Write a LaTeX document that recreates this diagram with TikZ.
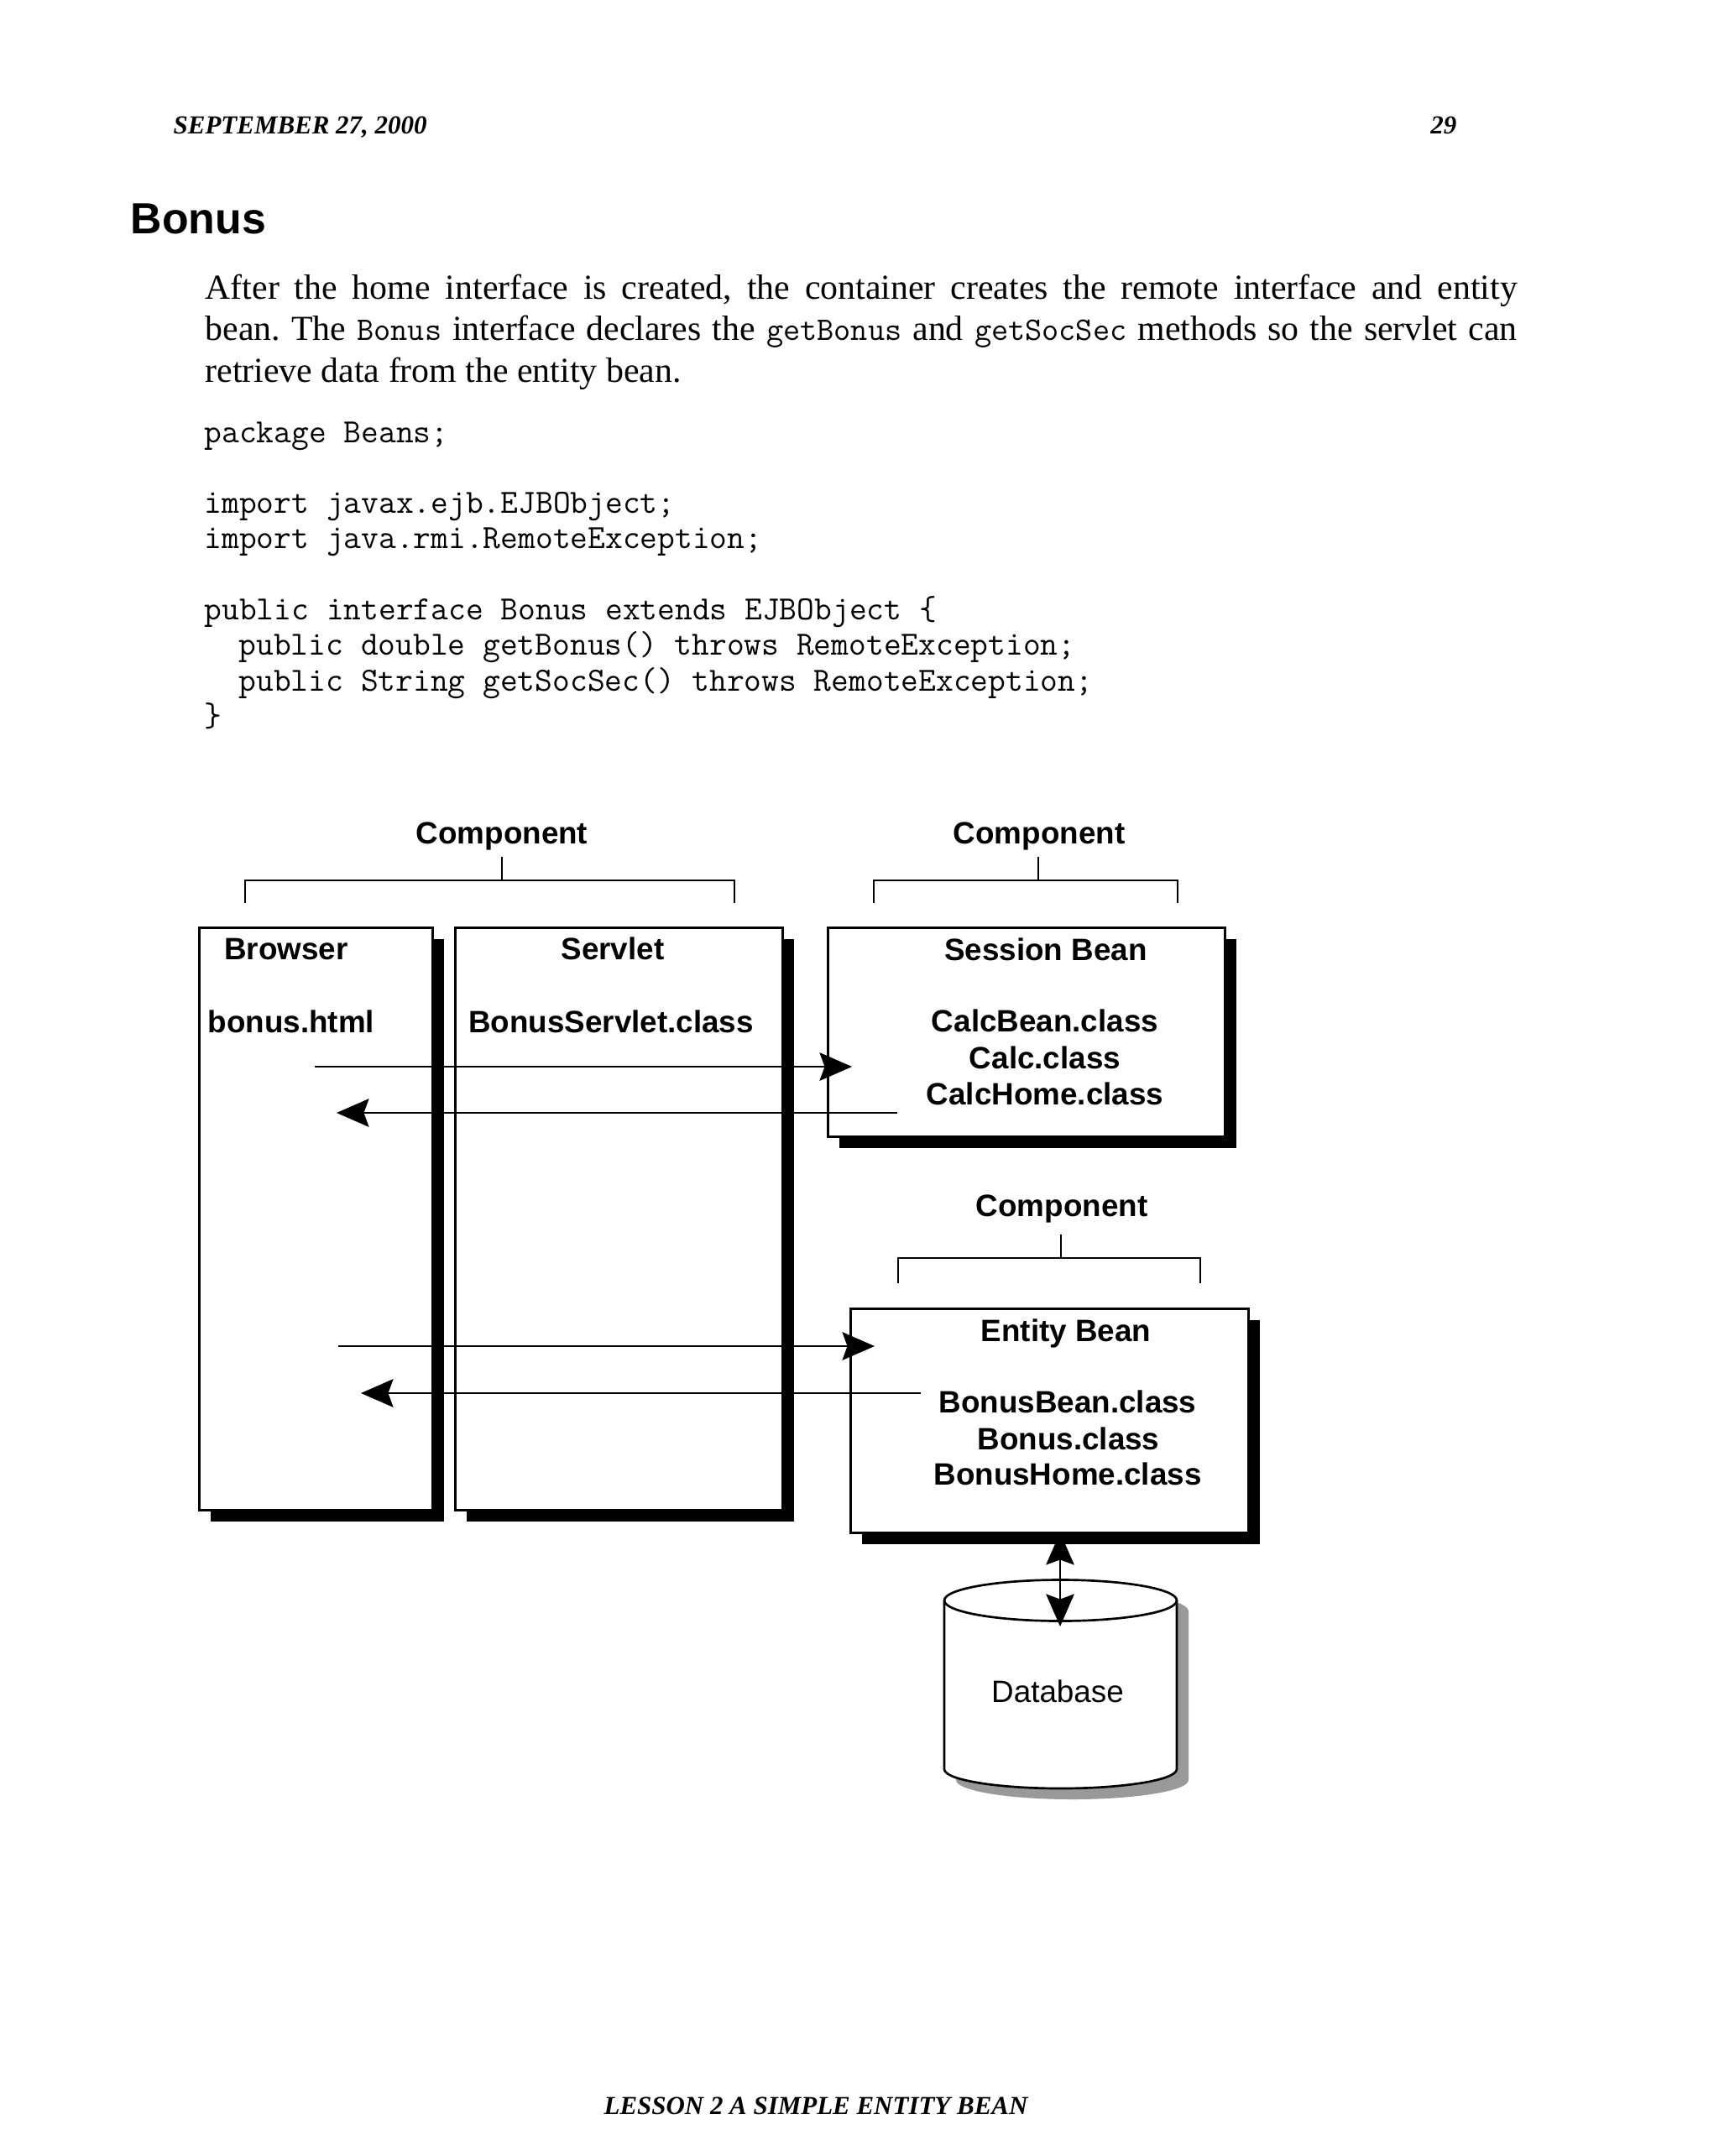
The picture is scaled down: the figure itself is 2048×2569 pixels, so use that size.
\documentclass[tikz,border=0pt]{standalone}
\usepackage{fontspec}
\setmainfont{Liberation Serif}
\setsansfont{Liberation Sans}
\usetikzlibrary{arrows.meta,shadows}
\def\pxu{0.29883pt}
\newcommand{\inl}[1]{{\ttfamily\fontsize{11.7}{12}\selectfont #1}}
\frenchspacing
\begin{document}
\begin{tikzpicture}[x=0.29883pt,y=-0.29883pt,
  lbl/.style={font=\sffamily\bfseries\fontsize{11}{13}\selectfont, inner sep=0, anchor=base},
  boxst/.style={draw, line width=0.8pt, fill=white, inner sep=0, anchor=north west,
    drop shadow={shadow xshift=13.5*\pxu, shadow yshift=-13.5*\pxu, fill=black, opacity=1}},
  tipst/.tip={Stealth[length=11.5pt,width=10pt,inset=1.8pt]},
  arr/.style={line width=0.8pt, -tipst},
  darr/.style={line width=0.8pt, tipst-tipst},
  brk/.style={line width=0.8pt},
  code/.style={font=\ttfamily\fontsize{12.05}{12}\selectfont, inner sep=0, anchor=base west},
  body/.style={font=\fontsize{12.5}{15}\selectfont, inner sep=0, anchor=base west},
  hdr/.style={font=\bfseries\itshape\fontsize{9.25}{11}\selectfont, inner sep=0},
]
\useasboundingbox[fill=white] (0,0) rectangle (2048,2569);

% header / footer
\node[hdr, anchor=base west] (date) at (206,160) {SEPTEMBER 27, 2000};
\node[hdr, anchor=base east] (pageno) at (1736,160) {29};
\node[hdr, anchor=base] (footer) at (972,2519) {LESSON 2 A SIMPLE ENTITY BEAN};

% title
\node[font=\sffamily\bfseries\fontsize{15.5}{18}\selectfont, inner sep=0, anchor=base west] (title) at (155,278) {Bonus};

% paragraph
\node[body] (p1) at (244,356) {\makebox[467.07pt][s]{After the home interface is created, the container creates the remote interface and entity}};
\node[body] (p2) at (244,405.5) {\makebox[467.07pt][s]{bean. The \inl{Bonus} interface declares the \inl{getBonus} and \inl{getSocSec} methods so the servlet can}};
\node[body] (p3) at (244,455) {retrieve data from the entity bean.};

% code
\node[code] (c1) at (243,527) {package Beans;};
\node[code] (c2) at (243,611.6) {import javax.ejb.EJBObject;};
\node[code] (c3) at (243,653.9) {import java.rmi.RemoteException;};
\node[code] (c4) at (243,738.5) {public interface Bonus extends EJBObject \{};
\node[code] (c5) at (284,780.8) {public double getBonus() throws RemoteException;};
\node[code] (c6) at (284,823.1) {public String getSocSec() throws RemoteException;};
\node[code] (c7) at (243,865.4) {\}};

% component labels and brackets
\node[lbl] (comp1) at (598,1005) {Component};
\node[lbl] (comp2) at (1238,1005) {Component};
\node[lbl] (comp3) at (1265,1449) {Component};

\coordinate (b1t) at (598,1021);
\coordinate (b1l) at (292,1076);
\coordinate (b1r) at (875,1076);
\draw[brk] (b1t) -- (598,1049);
\draw[brk] (b1l) |- (b1r |- 0,1049) -- (b1r);

\coordinate (b2t) at (1237,1021);
\coordinate (b2l) at (1041,1076);
\coordinate (b2r) at (1403,1076);
\draw[brk] (b2t) -- (1237,1049);
\draw[brk] (b2l) |- (b2r |- 0,1049) -- (b2r);

\coordinate (b3t) at (1264,1471);
\coordinate (b3l) at (1070,1529);
\coordinate (b3r) at (1430,1529);
\draw[brk] (b3t) -- (1264,1499);
\draw[brk] (b3l) |- (b3r |- 0,1499) -- (b3r);

% database cylinder
\fill[black!40] (1139,1920) -- (1139,2121) arc[start angle=180, end angle=0, x radius=138.5, y radius=23]
  -- (1416,1920) arc[start angle=0, end angle=-180, x radius=138.5, y radius=24.5] -- cycle;
\filldraw[line width=0.8pt, fill=white] (1125,1907) -- (1125,2108) arc[start angle=180, end angle=0, x radius=138.5, y radius=23]
  -- (1402,1907) arc[start angle=0, end angle=-180, x radius=138.5, y radius=24.5] -- cycle;
\draw[line width=0.8pt] (1125,1907) arc[start angle=180, end angle=0, x radius=138.5, y radius=24.5];
\node[font=\sffamily\fontsize{11}{13}\selectfont, inner sep=0, anchor=base] (db) at (1260,2028) {Database};

% double arrow entity <-> database (its top tip is hidden by the box shadow)
\coordinate (a5s) at (1263,1826);
\coordinate (a5e) at (1263,1938);
\draw[darr] (a5s) -- (a5e);

% boxes
\node[boxst, minimum width=278*\pxu, minimum height=694*\pxu] (browser) at (236,1104) {};
\node[boxst, minimum width=390*\pxu, minimum height=694*\pxu] (servlet) at (541,1104) {};
\node[boxst, minimum width=473*\pxu, minimum height=249*\pxu] (session) at (985,1104) {};
\node[boxst, minimum width=474*\pxu, minimum height=267*\pxu] (entity) at (1012,1558) {};

% box texts
\node[lbl] (tbrowser) at (341,1143) {Browser};
\node[lbl, anchor=base west] (thtml) at (247,1230) {bonus.html};
\node[lbl] (tservlet) at (730,1143) {Servlet};
\node[lbl] (tservletc) at (728,1230) {BonusServlet.class};
\node[lbl] (tsession) at (1246,1144) {Session Bean};
\node[lbl] (tcb) at (1245,1229) {CalcBean.class};
\node[lbl] (tc) at (1245,1273) {Calc.class};
\node[lbl] (tch) at (1245,1316) {CalcHome.class};
\node[lbl] (tentity) at (1270,1598) {Entity Bean};
\node[lbl] (tbb) at (1272,1683) {BonusBean.class};
\node[lbl] (tb) at (1273,1727) {Bonus.class};
\node[lbl] (tbh) at (1272,1769) {BonusHome.class};

% arrows
\coordinate (a1s) at (375,1271);
\coordinate (a1e) at (1015,1271);
\coordinate (a2s) at (1069,1326);
\coordinate (a2e) at (401,1326);
\coordinate (a3s) at (403,1604);
\coordinate (a3e) at (1042,1604);
\coordinate (a4s) at (1097,1660);
\coordinate (a4e) at (430,1660);
\draw[arr] (a1s) -- (a1e);
\draw[arr] (a2s) -- (a2e);
\draw[arr] (a3s) -- (a3e);
\draw[arr] (a4s) -- (a4e);
\end{tikzpicture}
\end{document}
